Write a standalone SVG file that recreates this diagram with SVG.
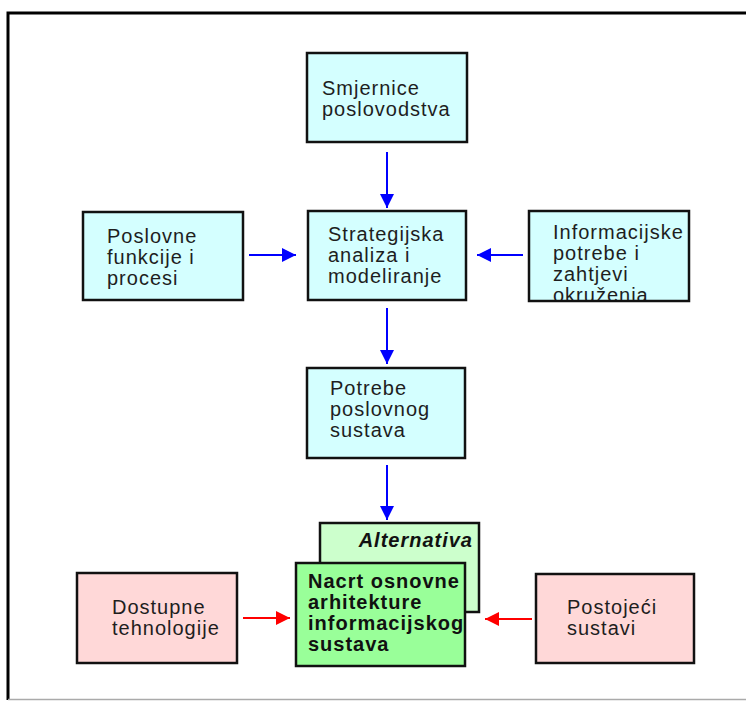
<svg xmlns="http://www.w3.org/2000/svg" width="746" height="702" viewBox="0 0 746 702">
<style>
.box{stroke:#111;stroke-width:2.5}
.cyan{fill:#d4ffff}
.pink{fill:#ffd8d8}
.t{font-family:"Liberation Sans",Arial,sans-serif;font-size:20px;letter-spacing:1px;fill:#1e1e1e}
.b{font-weight:bold;fill:#111}
.blue{stroke:#0000ff;stroke-width:2;fill:none}
.red{stroke:#ff0000;stroke-width:2;fill:none}
</style>
<defs>
<marker id="ab" viewBox="0 0 14 14" refX="14" refY="7" markerWidth="14" markerHeight="14" markerUnits="userSpaceOnUse" orient="auto"><path d="M0,0 L14,7 L0,14 Z" fill="#0000ff"/></marker>
<marker id="ar" viewBox="0 0 14 14" refX="14" refY="7" markerWidth="14" markerHeight="14" markerUnits="userSpaceOnUse" orient="auto"><path d="M0,0 L14,7 L0,14 Z" fill="#ff0000"/></marker>
<clipPath id="clipInfo"><rect x="530" y="212" width="158" height="88"/></clipPath>
</defs>
<rect width="746" height="702" fill="#fff"/>
<g id="frame">
<path d="M8,700 L8,13 L746,13" fill="none" stroke="#000" stroke-width="3"/>
<line x1="8" y1="699.5" x2="746" y2="699.5" stroke="#aaa" stroke-width="1.5"/>
</g>
<g id="connectors">
<line class="blue" x1="387" y1="152" x2="387" y2="208" marker-end="url(#ab)"/>
<line class="blue" x1="249" y1="255" x2="296" y2="255" marker-end="url(#ab)"/>
<line class="blue" x1="523" y1="255" x2="477" y2="255" marker-end="url(#ab)"/>
<line class="blue" x1="387" y1="308" x2="387" y2="364" marker-end="url(#ab)"/>
<line class="blue" x1="387" y1="465" x2="387" y2="520" marker-end="url(#ab)"/>
<line class="red" x1="243" y1="618" x2="290" y2="618" marker-end="url(#ar)"/>
<line class="red" x1="532" y1="619" x2="485" y2="619" marker-end="url(#ar)"/>
</g>
<g id="smjernice">
<rect class="box cyan" x="307" y="53" width="160" height="89"/>
<text class="t" x="322" y="95">Smjernice</text>
<text class="t" x="322" y="116">poslovodstva</text>
</g>
<g id="poslovne">
<rect class="box cyan" x="83" y="212" width="160" height="88"/>
<text class="t" x="107" y="243">Poslovne</text>
<text class="t" x="107" y="264">funkcije i</text>
<text class="t" x="107" y="285">procesi</text>
</g>
<g id="strategijska">
<rect class="box cyan" x="308" y="211" width="158" height="89"/>
<text class="t" x="328" y="241">Strategijska</text>
<text class="t" x="328" y="262">analiza i</text>
<text class="t" x="328" y="283">modeliranje</text>
</g>
<g id="informacijske">
<rect class="box cyan" x="529" y="211" width="160" height="90"/>
<g clip-path="url(#clipInfo)">
<text class="t" x="553" y="239">Informacijske</text>
<text class="t" x="553" y="260">potrebe i</text>
<text class="t" x="553" y="281">zahtjevi</text>
<text class="t" x="553" y="302">okruženja</text>
</g>
</g>
<g id="potrebe">
<rect class="box cyan" x="307" y="368" width="158" height="90"/>
<text class="t" x="330" y="395">Potrebe</text>
<text class="t" x="330" y="416">poslovnog</text>
<text class="t" x="330" y="437">sustava</text>
</g>
<g id="alternativa">
<rect class="box" x="320" y="523" width="159" height="89" fill="#ccffcc"/>
<text class="t b" x="473" y="547" text-anchor="end" font-style="italic">Alternativa</text>
</g>
<g id="nacrt">
<rect class="box" x="296" y="563" width="169" height="103" fill="#99ff99"/>
<text class="t b" x="308" y="588">Nacrt osnovne</text>
<text class="t b" x="308" y="609">arhitekture</text>
<text class="t b" x="308" y="630">informacijskog</text>
<text class="t b" x="308" y="651">sustava</text>
</g>
<g id="dostupne">
<rect class="box pink" x="77" y="573" width="160" height="90"/>
<text class="t" x="112" y="614">Dostupne</text>
<text class="t" x="112" y="635">tehnologije</text>
</g>
<g id="postojeci">
<rect class="box pink" x="536" y="574" width="158" height="89"/>
<text class="t" x="567" y="614">Postojeći</text>
<text class="t" x="567" y="635">sustavi</text>
</g>
</svg>
